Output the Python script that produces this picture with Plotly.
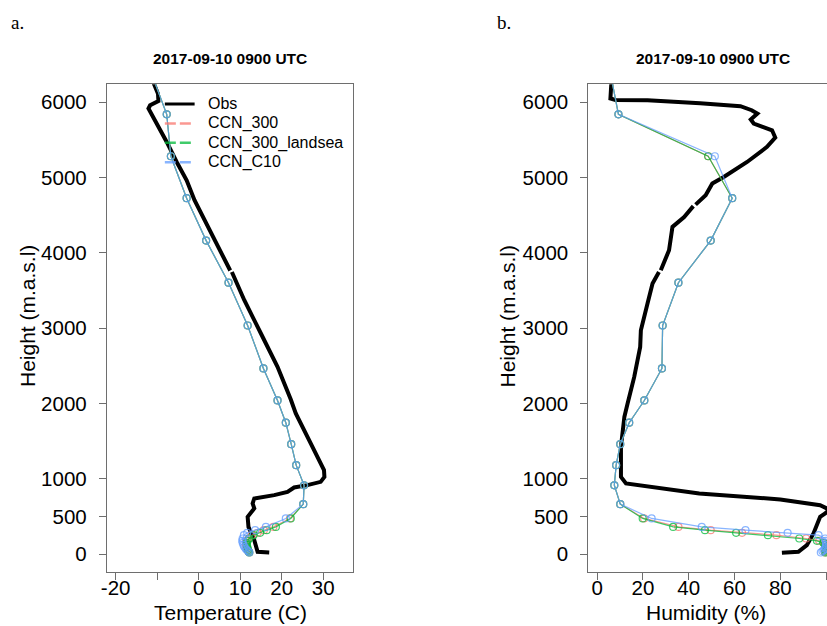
import plotly.graph_objects as go

# ---------------- observations (radiosonde) ----------------
obs_t_height = [6300, 6240, 6110, 6016, 5959, 5915, 5716, 5472, 5206, 4963, 4698, 4344,
                3813, 3765, None, 3745, 3371, 2929, 2486, 2053, 1867, 1469, 1115, 1026,
                960, 916, 885, 827, 783, 739, 673, 607, 540, 495, 362, 275, 186, 31, 22]
obs_temp = [-11.2, -10.8, -9.8, -9.7, -11.7, -12.1, -10.1, -7.7, -5.3, -2.9, -1.0, 2.2,
            7.0, 7.6, None, 8.0, 11.0, 15.0, 19.0, 22.2, 23.4, 27.0, 30.2, 30.3,
            29.4, 26.2, 23.0, 21.4, 18.2, 13.4, 13.0, 13.4, 12.6, 11.8, 12.0, 12.6, 13.4, 14.2, 17.0]

obs_rh_height = [6300, 6233, 6048, 6030, 6025, 5985, 5972, 5946, 5893, 5849, 5769, 5716,
                 5627, 5530, 5406, 5206, 5007, 4920, 4764, 4640, None, 4620, 4476, 4344,
                 4211, 4034, 3769, None, 3745, 3592, 3327, 2973, 2751, 2353, 2000, 1822,
                 1424, 1026, 938, 902, 827, 806, 726, 650, 607, 580, 540, 495, 275, 119, 31, 17]
obs_rh = [6.3, 6.1, 5.8, 8.0, 22.0, 45.0, 51.0, 62.6, 67.5, 70.0, 67.1, 68.4,
          76.4, 77.8, 74.2, 65.5, 55.3, 50.3, 47.4, 43.0, None, 42.0, 38.0, 32.9,
          32.2, 31.4, 27.8, None, 27.0, 24.2, 22.0, 19.1, 18.8, 16.2, 13.3, 11.9,
          10.4, 10.4, 12.6, 22.0, 41.7, 44.6, 80.0, 97.4, 100.3, 101.0, 99.6, 97.4, 94.5, 91.6, 87.9, 80.7]

# ---------------- model profiles (shared level heights) ----------------
model_height = [6400, 5839, 5282, 4725, 4162, 3603, 3035, 2465, 2040, 1745, 1460, 1181, 914,
                664, 474, 362, 318, 283, 252, 208, 177, 150, 122, 97, 74, 54, 37, 22]

temp_ccn300 = [-11.5, -7.7, -6.7, -2.9, 1.8, 7.2, 11.8, 15.6, 19.0, 21.0, 22.3, 23.5, 25.4,
               25.2, 22.0, 18.0, 15.7, 14.2, 12.8, 12.0, 11.6, 11.4, 11.4, 11.5, 11.6, 11.8, 12.0, 12.2]
temp_ccn300_landsea = [-11.5, -7.7, -6.7, -2.9, 1.8, 7.2, 11.8, 15.6, 19.0, 21.0, 22.3, 23.5, 25.4,
                       25.2, 22.2, 18.6, 16.4, 14.8, 13.2, 12.2, 11.8, 11.6, 11.6, 11.7, 11.8, 11.9, 12.0, 12.2]
temp_ccn_c10 = [-11.5, -7.7, -6.7, -2.9, 1.8, 7.2, 11.8, 15.6, 19.0, 21.0, 22.3, 23.5, 25.4,
                25.2, 21.0, 16.2, 13.6, 11.7, 10.9, 10.6, 10.5, 10.6, 10.8, 11.0, 11.3, 11.6, 12.0, 12.2]

rh_ccn300 = [5.7, 9.3, 48.5, 59.0, 49.6, 35.5, 28.6, 28.3, 20.6, 14.0, 10.1, 8.3, 7.5,
             10.1, 20.5, 35.5, 49.6, 63.3, 78.3, 91.3, 97.0, 99.0, 99.5, 99.8, 100.0, 100.0, 99.8, 99.6]
rh_ccn300_landsea = [5.7, 9.3, 48.5, 59.0, 49.6, 35.5, 28.6, 28.3, 20.6, 14.0, 10.1, 8.3, 7.5,
                     10.1, 19.9, 33.2, 47.1, 60.7, 74.6, 88.3, 96.0, 98.8, 99.5, 99.8, 100.0, 100.0, 99.8, 99.6]
rh_ccn_c10 = [5.7, 9.3, 51.4, 59.0, 49.6, 35.5, 28.6, 28.3, 20.6, 14.0, 10.1, 8.3, 7.5,
              10.1, 23.8, 45.7, 64.8, 83.2, 96.7, 99.6, 99.8, 100.0, 100.0, 99.8, 99.6, 99.0, 98.4, 97.7]

series_names = ["CCN_300", "CCN_300_landsea", "CCN_C10"]
series_colors = ["rgba(248,118,109,0.75)", "rgba(0,186,56,0.75)", "rgba(97,156,255,0.75)"]
legend_names = ["Obs"] + series_names
legend_colors = ["black"] + series_colors

height_ticks = [0, 500, 1000, 2000, 3000, 4000, 5000, 6000]
temp_ticks = [-20, -10, 0, 10, 20, 30]
temp_ticklabels = ["-20", "", "0", "10", "20", "30"]
rh_ticks = [0, 20, 40, 60, 80, 100]
rh_ticklabels = ["0", "20", "40", "60", "80", "100"]

W, H = 827, 626
SANS = "Liberation Sans, Arial, Helvetica, sans-serif"
fig = go.Figure()

# observed profiles
fig.add_trace(go.Scatter(x=obs_temp, y=obs_t_height, mode="lines", xaxis="x", yaxis="y",
                         line=dict(color="black", width=4), showlegend=False, connectgaps=False))
fig.add_trace(go.Scatter(x=obs_rh, y=obs_rh_height, mode="lines", xaxis="x2", yaxis="y2",
                         line=dict(color="black", width=4), showlegend=False, connectgaps=False))

# model profiles
temps = [temp_ccn300, temp_ccn300_landsea, temp_ccn_c10]
rhs = [rh_ccn300, rh_ccn300_landsea, rh_ccn_c10]
for name, col, t, r in zip(series_names, series_colors, temps, rhs):
    for xs, xa, ya in ((t, "x", "y"), (r, "x2", "y2")):
        fig.add_trace(go.Scatter(x=xs, y=model_height, mode="lines+markers", xaxis=xa, yaxis=ya,
                                 name=name, line=dict(color=col, width=1.2),
                                 marker=dict(symbol="circle-open", size=7, color=col,
                                             line=dict(width=1.2, color=col)),
                                 showlegend=False))

# panel geometry (pixels)
ax_l, ax_r = 101.7, 350.0
bx_l, bx_r = 586.7, 827.0
p_top, p_bot = 84.3, 572.0

frame = "#6e6e6e"
tickfont = dict(family=SANS, size=20.5, color="black")

def xax(dom, rng, tv, tt, anchor):
    return dict(domain=dom, range=rng, tickvals=tv, ticktext=tt, anchor=anchor, showgrid=False,
                zeroline=False, showline=True, linecolor=frame, linewidth=1.3, mirror=True,
                ticks="outside", ticklen=7, tickcolor=frame, tickwidth=1.2, tickfont=tickfont,
                ticklabelstandoff=-10)

def yax(rng, anchor, mirror):
    return dict(domain=[1 - p_bot / H, 1 - p_top / H], range=rng, anchor=anchor, tickvals=height_ticks,
                showgrid=False, zeroline=False, showline=True, linecolor=frame, linewidth=1.3,
                mirror=mirror, ticks="outside", ticklen=7, tickcolor=frame, tickwidth=1.2,
                tickfont=tickfont, ticklabelstandoff=8)

yrange = [-237, 6237]
fig.update_layout(
    width=W, height=H, margin=dict(l=0, r=0, t=0, b=0),
    paper_bgcolor="white", plot_bgcolor="white", showlegend=False,
    xaxis=xax([ax_l / W, ax_r / W], [-22.1, 37.3], temp_ticks, temp_ticklabels, "y"),
    yaxis=yax(yrange, "x", True),
    xaxis2=xax([bx_l / W, bx_r / W], [-3.8, 100.4], rh_ticks, rh_ticklabels, "y2"),
    yaxis2=yax(yrange, "x2", False),
)

def ann(text, x, y, size, family=SANS, angle=0, xanchor="center"):
    fig.add_annotation(text=text, x=x / W, y=1 - y / H, xref="paper", yref="paper", showarrow=False,
                       font=dict(family=family, size=size, color="black"), textangle=angle,
                       xanchor=xanchor, yanchor="middle", borderpad=0)

# key in the upper-left of the temperature panel
key_x0, key_x1, key_tx, key_y0, key_dy = 160, 190, 202, 104, 19.4
for i, (nm, col) in enumerate(zip(legend_names, legend_colors)):
    yy = 1 - (key_y0 + i * key_dy) / H
    fig.add_shape(type="line", xref="paper", yref="paper", x0=key_x0 / W, x1=key_x1 / W, y0=yy, y1=yy,
                  line=dict(color=col, width=3 if i == 0 else 2.5, dash="solid" if i == 0 else "11px,4px"))
    ann(nm, key_tx, key_y0 + i * key_dy, 16, xanchor="left")

ann("a.", 4, 22, 19, family="Liberation Serif, serif", xanchor="left")
ann("b.", 494, 22, 19, family="Liberation Serif, serif", xanchor="left")
ann("<b>2017-09-10 0900 UTC</b>", (ax_l + ax_r) / 2, 59, 15.5)
ann("<b>2017-09-10 0900 UTC</b>", 711.7, 59, 15.5)
ann("Temperature (C)", (ax_l + ax_r) / 2, 612, 21)
ann("Humidity (%)", 705, 612, 21)
ann("Height (m.a.s.l)", 21, (p_top + p_bot) / 2 - 12, 21, angle=-90)
ann("Height (m.a.s.l)", 505, (p_top + p_bot) / 2 - 12, 21, angle=-90)

fig.write_html("out.html")
